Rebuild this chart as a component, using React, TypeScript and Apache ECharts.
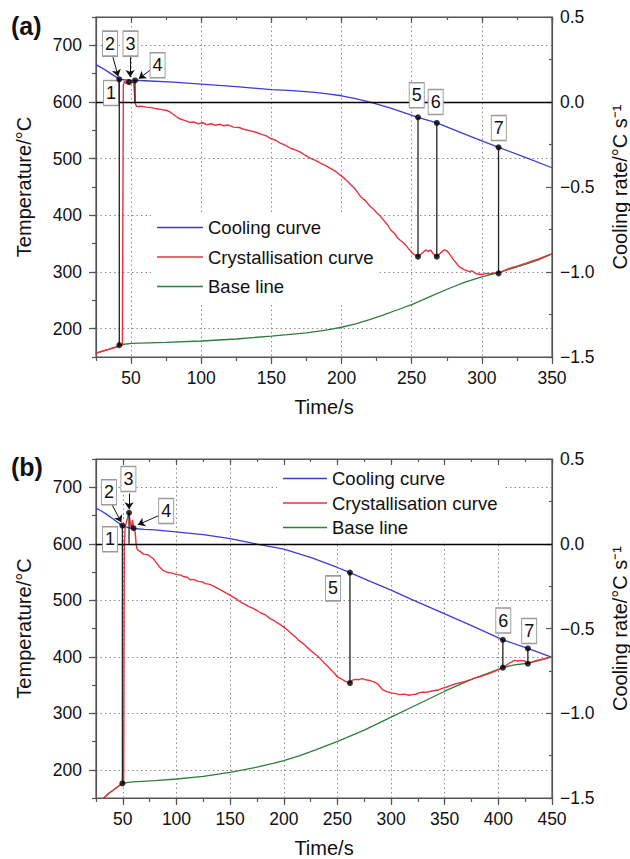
import React, { useEffect, useRef } from "react";
import * as echarts from "echarts";

const FONT = "'Liberation Sans', Arial, Helvetica, sans-serif";
const TEMP_MIN = 150;
const TEMP_MAX = 750;
const RATE_MIN = -1.5;
const RATE_MAX = 0.5;

const tempTicks = [200, 300, 400, 500, 600, 700];
const timeTicksA = [50, 100, 150, 200, 250, 300, 350];
const timeTicksB = [50, 100, 150, 200, 250, 300, 350, 400, 450];
const legendNames = ["Cooling curve", "Crystallisation curve", "Base line"];

// ---------- panel (a) ----------
const coolingA: number[][] = [
  [25, 666], [30, 659], [35, 651], [40, 643], [41.6, 640], [45, 639.3], [50, 638.6], [60, 637.5],
  [80, 635], [100, 631.5], [125, 627], [150, 622], [165, 620], [181, 617], [190, 614.5], [200, 611],
  [210, 606], [221, 599.5], [235, 589], [245, 581], [254.5, 573], [267.9, 563], [290, 541], [311.9, 520],
  [330, 503], [350, 484],
];
const crystA: number[][] = [
  [25, -1.478], [28, -1.47], [31, -1.462], [34, -1.455], [37, -1.447], [40, -1.44], [42, -1.432], [43.8, -1.43],
  [44.5, 0.1], [45.5, 0.125], [46.5, 0.108], [47.5, 0.117], [49, 0.11], [50.5, 0.12], [52, 0.108], [52.8, -0.005],
  [54, -0.027], [57, -0.025], [61, -0.03], [65, -0.033], [68, -0.04], [72, -0.045], [75.5, -0.05], [78, -0.06],
  [80, -0.072], [83, -0.09], [85, -0.1], [88, -0.108], [92, -0.12], [95, -0.118], [98, -0.128], [101, -0.122],
  [104, -0.133], [107, -0.128], [110, -0.137], [113.6, -0.131], [116, -0.14], [119, -0.135], [123, -0.148],
  [127, -0.15], [131, -0.162], [135, -0.17], [139, -0.178], [143, -0.19], [146, -0.198], [149.3, -0.214],
  [153, -0.225], [156, -0.24], [160, -0.255], [163.6, -0.272], [167, -0.282], [170.7, -0.295], [174, -0.313],
  [177.9, -0.331], [181, -0.342], [185, -0.36], [188, -0.372], [192.1, -0.39], [196, -0.41], [200.5, -0.439],
  [204, -0.465], [207, -0.49], [210, -0.515], [213.6, -0.557], [217, -0.58], [220, -0.61], [223, -0.632],
  [225.5, -0.655], [228, -0.675], [230, -0.695], [233, -0.725], [235, -0.753], [238, -0.775], [240, -0.8],
  [242, -0.815], [244.5, -0.831], [247, -0.855], [250.5, -0.89], [254.5, -0.91], [257, -0.893], [260, -0.87],
  [261.5, -0.878], [263.6, -0.872], [265.5, -0.895], [267.9, -0.91], [270, -0.893], [273, -0.87], [275, -0.875],
  [276.6, -0.89], [280, -0.93], [283.8, -0.968], [287, -0.985], [290.9, -0.998], [293, -0.993], [295.7, -1.01],
  [300, -1.015], [303, -1.008], [305.2, -1.012], [308, -1.006], [311.9, -1.008], [316, -0.99], [320, -0.977],
  [325, -0.965], [331.4, -0.948], [336, -0.935], [340, -0.925], [345, -0.908], [350, -0.892],
];
const baseA: number[][] = [
  [25, -1.478], [28, -1.47], [31, -1.462], [34, -1.455], [37, -1.447], [40, -1.44], [41.6, -1.43], [45, -1.425],
  [50.5, -1.42], [75, -1.414], [100, -1.406], [125, -1.394], [150, -1.377], [175, -1.358], [190, -1.34],
  [200, -1.325], [210, -1.305], [220, -1.28], [229, -1.255], [240, -1.222], [250.5, -1.19], [263, -1.145],
  [276.6, -1.097], [288, -1.06], [300, -1.028], [311.9, -1.003], [320, -0.983], [331.4, -0.953], [340, -0.93],
  [350, -0.894],
];
const markersTempA: number[][] = [[41.6, 640], [52.8, 638], [254.5, 573], [267.9, 563], [311.9, 520]];
const markersRateA: number[][] = [[41.6, -1.43], [48.5, 0.117], [254.5, -0.91], [267.9, -0.91], [311.9, -1.008]];
// [time, upper value, upper axis, lower value, lower axis]
const connectorsA: (number | string)[][] = [
  [41.6, 640, "T", -1.43, "R"], [52.8, 638, "T", 0, "R"], [254.5, 573, "T", -0.91, "R"],
  [267.9, 563, "T", -0.91, "R"], [311.9, 520, "T", -1.008, "R"],
];
const labelsA: (string | number)[][] = [
  ["1", 35.7, 616], ["2", 35, 703], ["3", 49.6, 703], ["4", 68.9, 665],
  ["5", 253.6, 612], ["6", 267.1, 600], ["7", 312.1, 554],
];
const arrowsA: number[][] = [[37.1, 679, 40.8, 645], [49.3, 679, 49.3, 644], [65, 659, 55.5, 641]];

// ---------- panel (b) ----------
const coolingB: number[][] = [
  [25, 663], [30, 658], [35, 652], [40, 645], [45, 638], [49.6, 632], [55, 628.5], [60, 627], [70, 625.5],
  [80, 624.5], [97, 621.5], [113, 618.5], [125, 616], [150, 609], [175, 599.5], [200, 590.6], [225, 575.8],
  [250, 558], [261.7, 549], [280, 534], [300, 518], [318.5, 502], [350, 476], [375, 455], [404.2, 430],
  [427.5, 414.7], [450, 399],
];
const crystB: number[][] = [
  [31.8, -1.502], [34, -1.49], [37, -1.472], [41.2, -1.453], [45, -1.435], [49.6, -1.414], [50.8, -1.41],
  [51.4, 0.0], [52.2, 0.1], [53.5, 0.13], [55.8, 0.183], [57, 0.12], [58, 0.09], [59, 0.14], [60, 0.1],
  [61.5, 0.07], [62.5, -0.01], [63.5, -0.035], [66, -0.045], [69.2, -0.061], [72, -0.063], [75, -0.072],
  [78.6, -0.09], [81, -0.11], [84, -0.135], [87.9, -0.159], [91, -0.168], [95, -0.172], [100.4, -0.182],
  [104, -0.185], [107, -0.195], [110, -0.198], [112.8, -0.212], [116, -0.21], [120, -0.222], [124, -0.225],
  [127, -0.235], [131, -0.24], [134.6, -0.25], [138, -0.262], [142, -0.275], [146, -0.29], [150.2, -0.305],
  [155, -0.322], [160, -0.345], [164, -0.358], [167, -0.37], [171, -0.38], [175.2, -0.394], [179, -0.41],
  [183, -0.42], [187, -0.44], [190, -0.45], [195, -0.47], [200, -0.492], [204, -0.512], [207, -0.53],
  [211, -0.55], [214, -0.57], [217, -0.583], [220, -0.6], [225, -0.629], [229, -0.65], [232, -0.665],
  [235, -0.685], [238, -0.705], [242, -0.73], [245, -0.75], [248, -0.77], [250, -0.786], [253, -0.795],
  [257, -0.81], [261.7, -0.822], [264, -0.805], [267, -0.8], [270, -0.802], [273, -0.796], [276, -0.802],
  [280, -0.806], [284, -0.815], [287, -0.825], [290, -0.845], [292, -0.861], [296, -0.872], [299.8, -0.88],
  [304.4, -0.884], [308, -0.89], [312, -0.887], [316.9, -0.894], [320, -0.89], [323, -0.888], [326, -0.88],
  [329.3, -0.875], [333, -0.877], [337, -0.87], [341, -0.866], [344.9, -0.861], [349, -0.85], [352, -0.845],
  [356, -0.835], [360.5, -0.825], [365, -0.82], [370, -0.81], [375, -0.8], [379.2, -0.79], [383, -0.785],
  [387, -0.775], [391, -0.768], [394.8, -0.757], [399, -0.745], [404.2, -0.731], [407, -0.72], [410, -0.705],
  [413, -0.695], [415, -0.688], [418, -0.692], [420, -0.688], [424.3, -0.692], [427.5, -0.708], [431, -0.698],
  [435, -0.69], [438, -0.685], [442, -0.68], [446, -0.673], [450, -0.667],
];
const baseB: number[][] = [
  [31.8, -1.502], [34, -1.49], [37, -1.472], [41.2, -1.453], [45, -1.435], [49.6, -1.414], [55, -1.408],
  [60, -1.405], [80, -1.398], [100, -1.388], [125, -1.372], [150, -1.349], [175, -1.318], [190, -1.296],
  [200, -1.279], [215, -1.25], [229.7, -1.216], [250.8, -1.165], [275, -1.1], [301, -1.02], [325, -0.947],
  [350, -0.87], [375, -0.8], [390, -0.765], [404.2, -0.731], [415, -0.715], [427.5, -0.705], [440, -0.685],
  [450, -0.667],
];
const markersTempB: number[][] = [[49.6, 632], [60, 627.5], [261.7, 549], [404.2, 430], [427.5, 414.7]];
const markersRateB: number[][] = [[49.6, -1.414], [55.8, 0.183], [261.7, -0.822], [404.2, -0.731], [427.5, -0.708]];
const connectorsB: (number | string)[][] = [
  [49.6, 632, "T", -1.414, "R"], [55.8, 0.183, "R", 0, "R"], [261.7, 549, "T", -0.822, "R"],
  [404.2, 430, "T", -0.731, "R"], [427.5, 414.7, "T", -0.708, "R"],
];
const labelsB: (string | number)[][] = [
  ["1", 38.1, 608], ["2", 37, 691], ["3", 55.2, 714.5], ["4", 90.4, 658],
  ["5", 246, 521], ["6", 404.6, 464], ["7", 428.7, 445.5],
];
const arrowsB: number[][] = [[39.7, 670, 48.6, 638], [55.8, 689, 55.8, 661], [83.2, 649.6, 64, 633.5]];

const BLUE = "#3b3bd6";
const RED = "#e8303e";
const GREEN = "#2f7d3a";
const AXIS = "#555";

// map a value of the rate axis onto the temperature axis (both axes share the plot height)
const toTemp = (v: number, axis: string) =>
  axis === "T" ? v : TEMP_MIN + ((v - RATE_MIN) / (RATE_MAX - RATE_MIN)) * (TEMP_MAX - TEMP_MIN);

function axesFor(gi: number, xMax: number, xTicks: number[]) {
  const lineStyle = { color: AXIS, width: 1.2 };
  const xAxis = [
    {
      gridIndex: gi, type: "value", position: "bottom", min: 25, max: xMax,
      name: "Time/s", nameLocation: "middle", nameGap: 40,
      nameTextStyle: { fontSize: 20, color: "#111", fontFamily: FONT },
      axisLine: { show: true, onZero: false, lineStyle },
      axisTick: { show: true, inside: false, length: 7, customValues: xTicks, lineStyle },
      axisLabel: { customValues: xTicks, margin: 12, fontSize: 17.5, color: "#111", fontFamily: FONT },
      splitLine: { show: true, lineStyle: { color: "#8a8a8a", type: [1.5, 3], width: 1 } },
    },
    {
      gridIndex: gi, type: "value", position: "bottom", min: 25, max: xMax, interval: 25,
      axisLine: { show: false, onZero: false }, axisTick: { show: true, length: 4, lineStyle },
      axisLabel: { show: false }, splitLine: { show: false },
    },
    {
      gridIndex: gi, type: "value", position: "top", min: 25, max: xMax,
      axisLine: { show: true, onZero: false, lineStyle },
      axisTick: { show: true, inside: true, length: 6, customValues: xTicks, lineStyle },
      axisLabel: { show: false }, splitLine: { show: false },
    },
    {
      gridIndex: gi, type: "value", position: "top", min: 25, max: xMax, interval: 25,
      axisLine: { show: false, onZero: false }, axisTick: { show: true, inside: true, length: 3, lineStyle },
      axisLabel: { show: false }, splitLine: { show: false },
    },
  ];
  const yAxis = [
    {
      gridIndex: gi, type: "value", position: "left", min: TEMP_MIN, max: TEMP_MAX,
      name: "Temperature/°C", nameLocation: "middle", nameGap: 62, nameRotate: 90,
      nameTextStyle: { fontSize: 20, color: "#111", fontFamily: FONT },
      axisLine: { show: true, onZero: false, lineStyle },
      axisTick: { show: true, inside: false, length: 7, customValues: tempTicks, lineStyle },
      axisLabel: { customValues: tempTicks, margin: 14, fontSize: 17.5, color: "#111", fontFamily: FONT },
      splitLine: { show: true, lineStyle: { color: "#8a8a8a", type: [1.5, 3], width: 1 } },
    },
    {
      gridIndex: gi, type: "value", position: "left", min: TEMP_MIN, max: TEMP_MAX, interval: 50,
      axisLine: { show: false, onZero: false }, axisTick: { show: true, length: 4, lineStyle },
      axisLabel: { show: false }, splitLine: { show: false },
    },
    {
      gridIndex: gi, type: "value", position: "right", min: RATE_MIN, max: RATE_MAX, interval: 0.5,
      name: "Cooling rate/°C s⁻¹", nameLocation: "middle", nameGap: 58, nameRotate: 90,
      nameTextStyle: { fontSize: 20, color: "#111", fontFamily: FONT },
      axisLine: { show: true, onZero: false, lineStyle },
      axisTick: { show: true, inside: true, length: 6, lineStyle },
      minorTick: { show: true, splitNumber: 2, length: 3, lineStyle },
      axisLabel: {
        margin: 8, fontSize: 17.5, color: "#111", fontFamily: FONT,
        formatter: (v: number) => (v < 0 ? "−" : "") + Math.abs(v).toFixed(1),
      },
      splitLine: { show: false },
    },
  ];
  return { xAxis, yAxis };
}

function seriesFor(
  xi: number, yT: number, yR: number,
  cooling: number[][], cryst: number[][], base: number[][],
  mT: number[][], mR: number[][], conns: (number | string)[][],
  labels: (string | number)[][], arrows: number[][],
) {
  const out: any[] = [
    {
      name: legendNames[0], type: "line", xAxisIndex: xi, yAxisIndex: yT, data: cooling,
      symbol: "none", lineStyle: { color: BLUE, width: 1.3 }, itemStyle: { color: BLUE }, z: 3,
    },
    {
      name: legendNames[2], type: "line", xAxisIndex: xi, yAxisIndex: yR, data: base,
      symbol: "none", lineStyle: { color: GREEN, width: 1.3 }, itemStyle: { color: GREEN }, z: 3,
    },
    {
      name: legendNames[1], type: "line", xAxisIndex: xi, yAxisIndex: yR, data: cryst,
      symbol: "none", lineStyle: { color: RED, width: 1.4 }, itemStyle: { color: RED }, z: 4,
      markLine: {
        silent: true, symbol: ["none", "none"], label: { show: false },
        lineStyle: { color: "#000", type: "solid", width: 1.3 }, data: [{ yAxis: 0 }],
      },
    },
  ];
  conns.forEach((c, i) => {
    out.push({
      name: "conn" + i, type: "line", xAxisIndex: xi, yAxisIndex: yT, symbol: "none", z: 5,
      data: [[c[0], toTemp(c[1] as number, c[2] as string)], [c[0], toTemp(c[3] as number, c[4] as string)]],
      lineStyle: { color: "#222", width: 1.3 },
    });
  });
  out.push({
    name: "markersR", type: "scatter", xAxisIndex: xi, yAxisIndex: yR, data: mR,
    symbolSize: 6, itemStyle: { color: "#000" }, z: 6, silent: true,
  });
  out.push({
    name: "markersT", type: "scatter", xAxisIndex: xi, yAxisIndex: yT, data: mT,
    symbolSize: 6, itemStyle: { color: "#000" }, z: 7, silent: true,
    markLine: {
      silent: true, symbol: ["none", "arrow"], symbolSize: 7, label: { show: false },
      lineStyle: { color: "#111", width: 1, type: "solid" },
      data: arrows.map((a) => [{ coord: [a[0], a[1]] }, { coord: [a[2], a[3]] }]),
    },
    markPoint: {
      silent: true, symbol: "rect", symbolSize: [15, 25],
      itemStyle: { color: "#fff", borderColor: "#9a9a9a", borderWidth: 1.2 },
      label: { show: true, position: "inside", formatter: "{b}", color: "#111", fontSize: 18, fontFamily: FONT },
      data: labels.map((l) => ({ name: l[0], coord: [l[1], l[2]] })),
    },
  });
  return out;
}

export default function App() {
  const ref = useRef<HTMLDivElement>(null);
  useEffect(() => {
    if (!ref.current) return;
    const chart = echarts.init(ref.current, null, { renderer: "svg" });
    const a = axesFor(0, 350, timeTicksA);
    const b = axesFor(1, 450, timeTicksB);
    const legendBase = {
      orient: "vertical", icon: "rect", itemWidth: 46, itemHeight: 1.6, backgroundColor: "#fff",
      textStyle: { fontSize: 18.5, color: "#111", fontFamily: FONT },
      data: legendNames, selectedMode: false,
    };
    chart.setOption({
      animation: false,
      backgroundColor: "#fff",
      title: [
        { text: "(a)", left: 11, top: 13, padding: 0, textStyle: { fontSize: 25, fontWeight: "bold", color: "#111", fontFamily: FONT } },
        { text: "(b)", left: 11, top: 454, padding: 0, textStyle: { fontSize: 25, fontWeight: "bold", color: "#111", fontFamily: FONT } },
      ],
      grid: [
        {
          left: 96, top: 17, width: 456, height: 340, show: true, borderColor: AXIS, borderWidth: 1.2,
          backgroundColor: "transparent", containLabel: false, outerBoundsMode: "none",
        },
        {
          left: 96, top: 459, width: 456, height: 339, show: true, borderColor: AXIS, borderWidth: 1.2,
          backgroundColor: "transparent", containLabel: false, outerBoundsMode: "none",
        },
      ],
      legend: [
        { ...legendBase, left: 151, top: 212, padding: [6, 6, 8, 6], itemGap: 10.5 },
        { ...legendBase, left: 277, top: 465, padding: [4, 6, 4, 6], itemGap: 5.5, itemWidth: 44 },
      ],
      xAxis: [...a.xAxis, ...b.xAxis],
      yAxis: [...a.yAxis, ...b.yAxis],
      series: [
        ...seriesFor(0, 0, 2, coolingA, crystA, baseA, markersTempA, markersRateA, connectorsA, labelsA, arrowsA),
        ...seriesFor(4, 3, 5, coolingB, crystB, baseB, markersTempB, markersRateB, connectorsB, labelsB, arrowsB),
      ],
    });
    return () => chart.dispose();
  }, []);
  return (
    <div
      ref={ref}
      style={{ position: "absolute", left: 0, top: 0, width: 630, height: 859, background: "#fff" }}
    />
  );
}
